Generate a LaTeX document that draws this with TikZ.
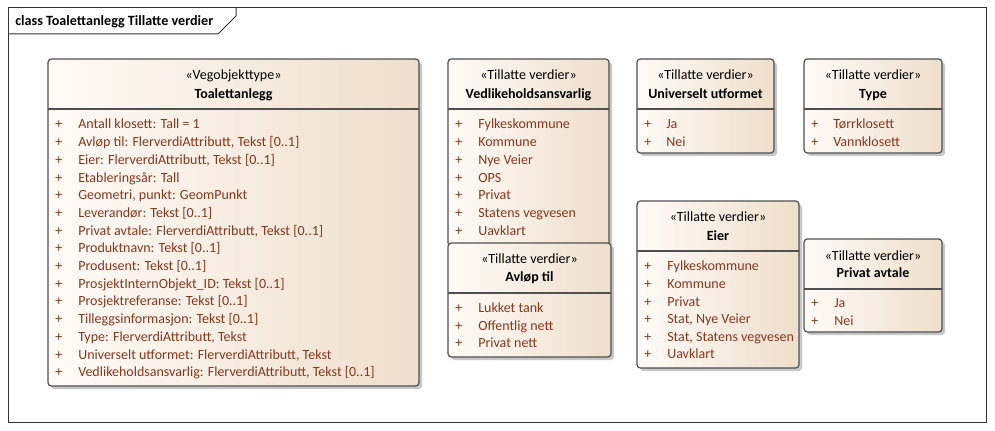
\documentclass[tikz,border=0pt]{standalone}
\usepackage{fontspec}
\setmainfont{Carlito}
\definecolor{boxL}{RGB}{255,251,247}
\definecolor{boxR}{RGB}{239,222,204}
\definecolor{memc}{RGB}{135,55,28}
\definecolor{edge}{RGB}{80,80,80}
\newcommand\umlbox[5]{%
  \fill[shadowbox] ({#1+3},{#2+3}) rectangle ({#3+3},{#4+3});
  \path[box] (#1,#2) rectangle (#3,#4);
  \draw[sepline] (#1,#5) -- (#3,#5);}
\begin{document}
\begin{tikzpicture}[x=0.75pt,y=-0.75pt,
  font=\fontsize{10.5}{12}\selectfont,
  frame/.style={draw=black!80, line width=0.75pt},
  box/.style={draw=edge, line width=0.9pt, rounded corners=2.5pt, left color=boxL, right color=boxR},
  shadowbox/.style={fill=black!22, rounded corners=2.5pt},
  sepline/.style={draw=edge, line width=0.9pt},
  fixed/.style={inner sep=0, text height=7.5pt, text depth=2.3pt, yshift=-1.5pt},
  stereo/.style={fixed, anchor=center},
  cname/.style={fixed, anchor=center, font=\fontsize{10.5}{12}\selectfont\bfseries},
  member/.style={fixed, anchor=west, text=memc}]
\useasboundingbox (0,0) rectangle (995,431);
\fill[white] (0,0) rectangle (995,431);
\draw[frame] (8,8) rectangle (986,422);
\draw[frame] (8,34) -- (218,34) -- (236,16) -- (236,8);
\node[fixed, anchor=west, font=\fontsize{10.6}{12}\selectfont\bfseries] (title) at (15,20.5) {class Toalettanlegg Tillatte verdier};

% Toalettanlegg
\umlbox{48}{59}{419}{386}{109}
\node[stereo] (toa-st) at (233.5,74.5) {«Vegobjekttype»};
\node[cname] (toa-nm) at (233.5,93.5) {Toalettanlegg};
\foreach \t [count=\i from 0] in {{Antall klosett: Tall = 1},{Avløp til: FlerverdiAttributt, Tekst [0..1]},{Eier: FlerverdiAttributt, Tekst [0..1]},{Etableringsår: Tall},{Geometri, punkt: GeomPunkt},{Leverandør: Tekst [0..1]},{Privat avtale: FlerverdiAttributt, Tekst [0..1]},{Produktnavn: Tekst [0..1]},{Produsent: Tekst [0..1]},{ProsjektInternObjekt\_ID: Tekst [0..1]},{Prosjektreferanse: Tekst [0..1]},{Tilleggsinformasjon: Tekst [0..1]},{Type: FlerverdiAttributt, Tekst},{Universelt utformet: FlerverdiAttributt, Tekst},{Vedlikeholdsansvarlig: FlerverdiAttributt, Tekst [0..1]}}{
  \node[member] (toa-p\i) at (55,{123.5+17.7*\i}) {+};
  \node[member] (toa-m\i) at (78,{123.5+17.7*\i}) {\t};
}

% Vedlikeholdsansvarlig
\umlbox{448}{59}{609}{246}{109}
\node[stereo] (ved-st) at (528.5,74.5) {«Tillatte verdier»};
\node[cname] (ved-nm) at (528.5,93.5) {Vedlikeholdsansvarlig};
\foreach \t [count=\i from 0] in {Fylkeskommune,Kommune,Nye Veier,OPS,Privat,Statens vegvesen,Uavklart}{
  \node[member] (ved-p\i) at (455,{123.5+17.7*\i}) {+};
  \node[member] (ved-m\i) at (478,{123.5+17.7*\i}) {\t};
}

% Avløp til
\umlbox{448}{243}{611}{357}{293}
\node[stereo] (avl-st) at (529.5,258.5) {«Tillatte verdier»};
\node[cname] (avl-nm) at (529.5,276.5) {Avløp til};
\foreach \t [count=\i from 0] in {Lukket tank,Offentlig nett,Privat nett}{
  \node[member] (avl-p\i) at (455,{307.5+17.5*\i}) {+};
  \node[member] (avl-m\i) at (478,{307.5+17.5*\i}) {\t};
}

% Universelt utformet
\umlbox{637}{59}{774}{153}{109}
\node[stereo] (uni-st) at (705.5,74.5) {«Tillatte verdier»};
\node[cname] (uni-nm) at (705.5,93.5) {Universelt utformet};
\foreach \t [count=\i from 0] in {Ja,Nei}{
  \node[member] (uni-p\i) at (644,{123.5+17.5*\i}) {+};
  \node[member] (uni-m\i) at (666,{123.5+17.5*\i}) {\t};
}

% Type
\umlbox{804}{59}{942}{153}{109}
\node[stereo] (typ-st) at (873,74.5) {«Tillatte verdier»};
\node[cname] (typ-nm) at (873,93.5) {Type};
\foreach \t [count=\i from 0] in {Tørrklosett,Vannklosett}{
  \node[member] (typ-p\i) at (811,{123.5+17.5*\i}) {+};
  \node[member] (typ-m\i) at (833,{123.5+17.5*\i}) {\t};
}

% Eier
\umlbox{637}{201}{799}{368}{251}
\node[stereo] (eie-st) at (718,216.5) {«Tillatte verdier»};
\node[cname] (eie-nm) at (718,235.5) {Eier};
\foreach \t [count=\i from 0] in {Fylkeskommune,Kommune,Privat,{Stat, Nye Veier},{Stat, Statens vegvesen},Uavklart}{
  \node[member] (eie-p\i) at (644,{265.5+17.6*\i}) {+};
  \node[member] (eie-m\i) at (667,{265.5+17.6*\i}) {\t};
}

% Privat avtale
\umlbox{804}{239}{942}{332}{289}
\node[stereo] (pri-st) at (873,255.5) {«Tillatte verdier»};
\node[cname] (pri-nm) at (873,272.5) {Privat avtale};
\foreach \t [count=\i from 0] in {Ja,Nei}{
  \node[member] (pri-p\i) at (811,{302.5+17.5*\i}) {+};
  \node[member] (pri-m\i) at (834,{302.5+17.5*\i}) {\t};
}
\end{tikzpicture}
\end{document}
